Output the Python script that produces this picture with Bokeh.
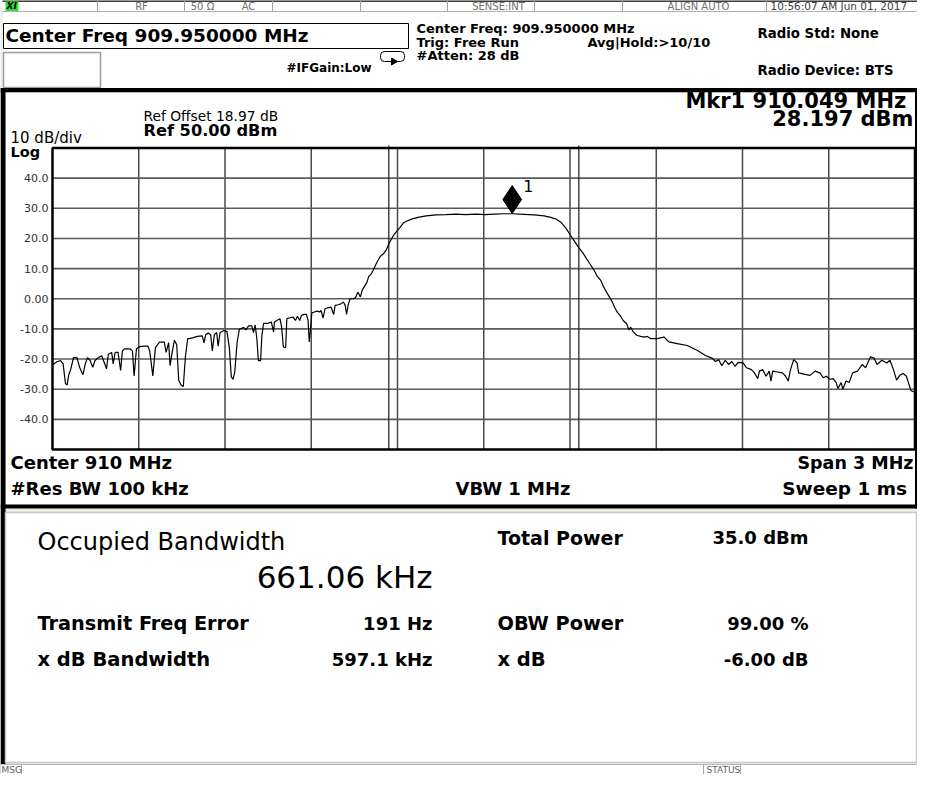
from bokeh.plotting import figure
from bokeh.models import Range1d, Label
from bokeh.embed import file_html
from bokeh.resources import INLINE
from bokeh.core.properties import value

# ---------------- data ----------------
freq_mhz = [
    908.450, 908.455, 908.466, 908.478, 908.487, 908.495, 908.501, 908.506, 908.514, 908.523,
    908.535, 908.544, 908.556, 908.564, 908.572, 908.581, 908.590, 908.598, 908.610, 908.621,
    908.629, 908.638, 908.644, 908.656, 908.661, 908.668, 908.678, 908.687, 908.693, 908.701,
    908.719, 908.728, 908.734, 908.742, 908.753, 908.770, 908.782, 908.788, 908.799, 908.808,
    908.822, 908.839, 908.845, 908.854, 908.859, 908.866, 908.874, 908.882, 908.889, 908.897,
    908.905, 908.912, 908.920, 908.937, 908.954, 908.971, 908.977, 908.983, 908.992, 909.000,
    909.006, 909.013, 909.021, 909.026, 909.033, 909.046, 909.057, 909.065, 909.072, 909.078,
    909.084, 909.092, 909.100, 909.115, 909.123, 909.132, 909.143, 909.149, 909.155, 909.161,
    909.166, 909.174, 909.178, 909.184, 909.195, 909.201, 909.211, 909.219, 909.222, 909.230,
    909.241, 909.247, 909.253, 909.261, 909.265, 909.276, 909.287, 909.295, 909.302, 909.310,
    909.316, 909.325, 909.333, 909.339, 909.343, 909.347, 909.352, 909.361, 909.371, 909.379,
    909.384, 909.391, 909.398, 909.407, 909.419, 909.428, 909.433, 909.444, 909.453, 909.462,
    909.468, 909.473, 909.478, 909.485, 909.496, 909.504, 909.512, 909.521, 909.527, 909.535,
    909.544, 909.550, 909.558, 909.565, 909.573, 909.581, 909.590, 909.601, 909.611, 909.619,
    909.627, 909.638, 909.649, 909.659, 909.670, 909.681, 909.699, 909.721, 909.750, 909.784,
    909.819, 909.853, 909.887, 909.922, 909.956, 909.986, 910.021, 910.049, 910.090, 910.125,
    910.160, 910.183, 910.200, 910.218, 910.235, 910.250, 910.264, 910.279, 910.293, 910.304,
    910.319, 910.333, 910.345, 910.357, 910.366, 910.377, 910.389, 910.397, 910.405, 910.414,
    910.424, 910.435, 910.447, 910.455, 910.461, 910.470, 910.482, 910.496, 910.507, 910.519,
    910.530, 910.553, 910.577, 910.594, 910.623, 910.658, 910.692, 910.721, 910.744, 910.756,
    910.767, 910.778, 910.790, 910.801, 910.813, 910.824, 910.835, 910.852, 910.864, 910.881,
    910.892, 910.903, 910.909, 910.920, 910.932, 910.943, 910.949, 910.955, 910.972, 910.989,
    911.000, 911.009, 911.017, 911.028, 911.040, 911.045, 911.068, 911.085, 911.102, 911.119,
    911.131, 911.142, 911.153, 911.165, 911.176, 911.182, 911.193, 911.199, 911.210, 911.221,
    911.233, 911.250, 911.267, 911.278, 911.295, 911.307, 911.318, 911.335, 911.352, 911.363,
    911.375, 911.386, 911.397, 911.409, 911.420, 911.429, 911.436, 911.450,
]
level_dbm = [
    -22.0, -21.6, -20.9, -20.5, -21.6, -28.1, -28.6, -25.4, -23.2, -19.5,
    -19.5, -22.7, -25.2, -21.6, -19.5, -20.5, -22.7, -20.5, -19.5, -18.9,
    -20.9, -23.2, -18.4, -17.8, -21.6, -17.8, -17.8, -23.8, -17.3, -16.6,
    -16.6, -17.3, -25.6, -16.6, -15.9, -15.7, -15.7, -17.3, -25.6, -16.2,
    -14.4, -14.4, -17.8, -14.6, -22.2, -17.8, -13.8, -15.2, -27.0, -28.6,
    -29.1, -19.5, -13.3, -13.0, -12.5, -12.3, -14.6, -11.9, -11.4, -11.9,
    -17.3, -11.9, -11.2, -15.7, -11.2, -10.5, -10.9, -16.2, -25.9, -26.7,
    -24.3, -14.6, -10.1, -9.5, -10.3, -9.0, -9.0, -11.2, -8.7, -13.5,
    -20.5, -20.5, -12.5, -8.2, -8.2, -8.1, -7.7, -11.0, -7.7, -7.2,
    -6.6, -9.4, -16.0, -16.2, -6.6, -6.3, -6.1, -7.2, -5.8, -7.2,
    -5.5, -5.2, -5.2, -7.2, -14.3, -10.5, -4.7, -4.4, -4.1, -4.4,
    -3.9, -6.4, -3.3, -3.0, -2.8, -5.2, -2.2, -2.0, -1.7, -1.1,
    -2.2, -5.2, -2.2, 0.0, 0.0, 0.3, 2.2, 0.6, 2.8, 4.1,
    5.5, 7.4, 8.1, 9.4, 11.0, 12.5, 14.0, 14.9, 16.2, 18.0,
    19.5, 21.3, 22.6, 23.7, 25.1, 25.7, 26.4, 27.0, 27.5, 27.8,
    27.9, 28.1, 27.9, 28.1, 27.9, 28.1, 28.2, 28.2, 28.0, 27.8,
    27.5, 27.0, 26.5, 25.4, 23.5, 21.3, 19.3, 17.1, 15.5, 13.8,
    11.6, 9.6, 7.4, 6.1, 4.1, 2.2, 0.3, -1.1, -2.8, -4.4,
    -5.5, -7.2, -8.3, -10.3, -9.4, -11.0, -12.1, -12.5, -12.7, -12.5,
    -13.2, -13.2, -12.7, -14.3, -14.9, -15.5, -17.1, -18.8, -19.7, -20.8,
    -20.2, -22.2, -20.4, -21.8, -20.8, -22.4, -21.1, -21.3, -22.9, -23.5,
    -24.6, -26.5, -24.0, -23.5, -25.7, -24.0, -27.3, -24.0, -24.3, -24.6,
    -25.7, -27.3, -23.5, -20.2, -21.3, -24.6, -25.1, -25.4, -24.0, -24.6,
    -26.2, -25.7, -26.7, -26.5, -27.8, -29.8, -27.8, -30.0, -27.3, -27.8,
    -24.6, -24.0, -21.8, -22.9, -19.3, -19.6, -21.8, -20.4, -21.3, -20.4,
    -23.5, -27.0, -25.4, -24.8, -25.7, -28.4, -30.5, -31.0,
]
y_ticks = [40, 30, 20, 10, 0, -10, -20, -30, -40]
y_tick_labels = ["40.0", "30.0", "20.0", "10.0", "0.00", "-10.0", "-20.0", "-30.0", "-40.0"]
center_mhz = 909.95
span_mhz = 3.0
ref_dbm = 50.0
db_per_div = 10.0
obw_edges_mhz = [909.6197, 910.2807]
marker_mhz = 910.049
marker_dbm = 28.197

FONT = "DejaVu Sans"

# ---------------- layout: canvas pixels (917x774) ----------------
W, H = 917, 774
GL, GR, GT, GB = 52, 914.5, 147.5, 449   # graticule box on the canvas
RX = 913                                  # right edge for right-aligned texts

f_lo = center_mhz - span_mhz / 2
f_hi = center_mhz + span_mhz / 2
db_hi = ref_dbm
db_lo = ref_dbm - 10 * db_per_div
fpp = span_mhz / (GR - GL)
dpp = (db_hi - db_lo) / (GB - GT)

p = figure(width=W, height=H, x_range=Range1d(0, W), y_range=Range1d(H, 0),
           output_backend="svg", toolbar_location=None,
           x_axis_type=None, y_axis_type=None, min_border=0)
p.extra_x_ranges = {"f": Range1d(f_lo - GL * fpp, f_hi + (W - GR) * fpp)}
p.extra_y_ranges = {"db": Range1d(db_lo - (H - GB) * dpp, db_hi + GT * dpp)}
p.outline_line_color = None
p.background_fill_color = "#ecebe4"
p.border_fill_color = "#ecebe4"


def box(l, r, t, b, fill="white", line=None, lw=1):
    p.quad(left=[l], right=[r], top=[t], bottom=[b], fill_color=fill,
           line_color=line, line_width=lw)


def seg(x0, y0, x1, y1, color="#999999", lw=1):
    p.segment(x0=[x0], y0=[y0], x1=[x1], y1=[y1], line_color=color, line_width=lw)


def txt(x, y, s, size, bold=False, align="left", color="black", style=None):
    p.text(x=[x], y=[y], text=[s], text_font=value(FONT),
           text_font_size=f"{size}px",
           text_font_style=style or ("bold" if bold else "normal"),
           text_align=align, text_baseline="middle", text_color=color)


# header
box(2, W, 0, 88)
seg(2, 0.5, W, 0.5, "black", 1.5)
for sx in [97, 184, 272, 360, 447, 534, 622, 766]:
    seg(sx, 0, sx, 11, "#a0a0a0")
seg(2, 11, W, 11, "#b0b0b0")
box(5, 18, 1, 10.5, fill="#2ee02e")
txt(6, 5.5, "XI", 9, style="bold italic")
txt(141, 5.5, "RF", 10, align="center", color="#707070")
txt(202, 5.5, "50 Ω", 10, align="center", color="#707070")
txt(248, 5.5, "AC", 10, align="center", color="#707070")
txt(498, 5.5, "SENSE:INT", 10, align="center", color="#707070")
txt(698, 5.5, "ALIGN AUTO", 10, align="center", color="#707070")
txt(770, 5.5, "10:56:07 AM Jun 01, 2017", 10.5, color="#404040")

box(3, 408, 23, 48, line="black", lw=1)
txt(5, 35, "Center Freq 909.950000 MHz", 18.5, bold=True)
box(3, 100, 52, 87, line="#9a9a9a", lw=1.5)
p.quad(left=[380], right=[404], top=[51], bottom=[61], fill_color=None,
       line_color="black", line_width=1, border_radius=4)
p.scatter(x=[393], y=[61], marker="triangle", angle=-1.5708, size=7,
          fill_color="black", line_color="black")
txt(286, 67.5, "#IFGain:Low", 12, bold=True)
txt(416, 28, "Center Freq: 909.950000 MHz", 13, bold=True)
txt(416, 41.5, "Trig: Free Run", 13, bold=True)
txt(587, 41.5, "Avg|Hold:>10/10", 13, bold=True)
txt(416, 55, "#Atten: 28 dB", 13, bold=True)
txt(757, 33, "Radio Std: None", 13.3, bold=True)
txt(757, 70, "Radio Device: BTS", 13.3, bold=True)

# spectrum panel frame
box(0, W, 87.5, 92, fill="black")
box(5, GR, 92, 504)
box(0, 5, 87.5, 764, fill="black")
box(GR, W, 87.5, 508, fill="black")
box(0, W, 504, 508, fill="black")

txt(RX, 100.5, "Mkr1  910.049 MHz", 21, bold=True, align="right")
txt(RX, 118.5, "28.197 dBm", 21, bold=True, align="right")
txt(143, 115.5, "Ref Offset 18.97 dB", 13.8)
txt(143, 129.5, "Ref 50.00 dBm", 16.2, bold=True)
txt(10, 137.5, "10 dB/div", 15)
txt(10, 151, "Log", 14.5, bold=True)

txt(10, 462, "Center  910 MHz", 18, bold=True)
txt(10, 488, "#Res BW  100 kHz", 18, bold=True)
txt(455, 488, "VBW  1 MHz", 18, bold=True)
txt(RX, 462, "Span 3 MHz", 17.5, bold=True, align="right")
txt(RX, 488, "Sweep  1 ms", 18.5, bold=True, align="right")

# grid (data coordinates)
div_f = [f_lo + k * span_mhz / 10 for k in range(1, 10)]
p.segment(x0=div_f, y0=[db_lo] * 9, x1=div_f, y1=[db_hi] * 9,
          x_range_name="f", y_range_name="db", line_color="#4a4a4a", line_width=1.5)
p.segment(x0=[f_lo] * len(y_ticks), y0=y_ticks, x1=[f_hi] * len(y_ticks), y1=y_ticks,
          x_range_name="f", y_range_name="db", line_color="#5a5a5a", line_width=1.6)
p.segment(x0=obw_edges_mhz, y0=[db_lo] * 2, x1=obw_edges_mhz, y1=[db_hi + 0.8] * 2,
          x_range_name="f", y_range_name="db", line_color="#2a2a2a", line_width=1.3)
p.text(x=[f_lo] * len(y_ticks), y=y_ticks, text=y_tick_labels, x_range_name="f",
       y_range_name="db", x_offset=-4, text_align="right", text_baseline="middle",
       text_font=value(FONT), text_font_size="11px", text_color="#303030")

# trace
p.line(freq_mhz, level_dbm, x_range_name="f", y_range_name="db",
       line_color="black", line_width=1.2)

# marker
p.add_layout(Label(x=marker_mhz, y=marker_dbm, x_range_name="f", y_range_name="db",
                   text="1", x_offset=11, y_offset=22, text_font=FONT,
                   text_font_size="16px", text_color="black",
                   background_fill_color="white"))
p.scatter(x=[marker_mhz], y=[marker_dbm + 4.7], x_range_name="f", y_range_name="db",
          marker="diamond", size=28, fill_color="black", line_color="black")

# grid box
p.quad(left=[f_lo], right=[f_hi], top=[db_hi], bottom=[db_lo], x_range_name="f",
       y_range_name="db", fill_color=None, line_color="black", line_width=2.5)

# results panel
box(5, W - 1, 512, 762, line="#c8c8c8", lw=1.5)
txt(37, 541, "Occupied Bandwidth", 24)
txt(432, 576, "661.06 kHz", 31, align="right")
txt(497, 537, "Total Power", 19, bold=True)
txt(808, 537, "35.0 dBm", 18, bold=True, align="right")
txt(37, 623, "Transmit Freq Error", 19.3, bold=True)
txt(432, 623, "191 Hz", 18, bold=True, align="right")
txt(497, 623, "OBW Power", 19.3, bold=True)
txt(808, 623, "99.00 %", 18, bold=True, align="right")
txt(37, 659, "x dB Bandwidth", 19.5, bold=True)
txt(432, 659, "597.1 kHz", 18, bold=True, align="right")
txt(497, 659, "x dB", 19.5, bold=True)
txt(808, 659, "-6.00 dB", 18, bold=True, align="right")

# bottom status bar
box(0, W, 764, H, line="#b8b8b8")
for sx in [21, 703, 740]:
    seg(sx, 764, sx, H, "#a8a8a8")
txt(1, 769.5, "MSG", 9, color="#606060")
txt(706, 769.5, "STATUS", 9, color="#606060")

open("out.html", "w").write(file_html(p, INLINE))
